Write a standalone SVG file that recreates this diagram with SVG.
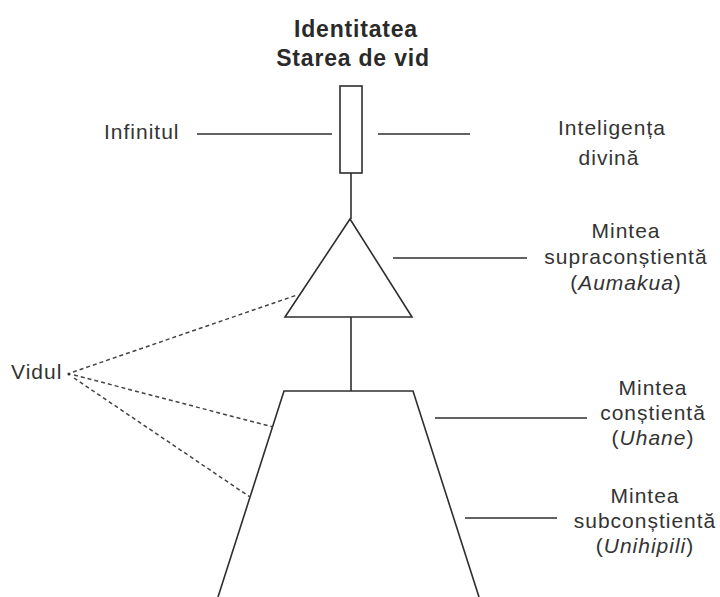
<svg xmlns="http://www.w3.org/2000/svg" width="720" height="597" viewBox="0 0 720 597">
  <style>
    .shape { fill: none; stroke: #2e2e2e; stroke-width: 1.6; }
    .conn { fill: none; stroke: #2e2e2e; stroke-width: 1.6; }
    .dash { fill: none; stroke: #444; stroke-width: 1.5; stroke-dasharray: 4 3; }
    .lbl { font-family: "Liberation Sans", Arial, sans-serif; font-size: 21px; letter-spacing: 1px; fill: #333; }
    .mid { text-anchor: middle; }
    .title { font-family: "Liberation Sans", Arial, sans-serif; font-size: 23px; font-weight: bold; letter-spacing: 0.8px; fill: #2a2a2a; text-anchor: middle; }
  </style>
  <rect width="720" height="597" fill="#ffffff"/>

  <g id="title">
    <text class="title" x="356" y="37">Identitatea</text>
    <text class="title" x="353" y="66">Starea de vid</text>
  </g>

  <g id="identity-rect">
    <rect class="shape" x="340" y="86" width="22" height="87"/>
  </g>

  <g id="triangle-supraconscious">
    <polygon class="shape" points="350,219 285,317 412,317"/>
  </g>

  <g id="trapezoid-mind">
    <polyline class="shape" points="218,597 284,391 413,391 479,597"/>
  </g>

  <g id="label-infinitul">
    <text class="lbl" x="104" y="139">Infinitul</text>
  </g>

  <g id="label-inteligenta">
    <text class="lbl mid" x="612" y="135">Inteligența</text>
    <text class="lbl mid" x="609" y="165">divină</text>
  </g>

  <g id="label-aumakua">
    <text class="lbl mid" x="626" y="238">Mintea</text>
    <text class="lbl mid" x="626" y="264">supraconștientă</text>
    <text class="lbl mid" x="626" y="290">(<tspan font-style="italic">Aumakua</tspan>)</text>
  </g>

  <g id="label-uhane">
    <text class="lbl mid" x="653" y="395">Mintea</text>
    <text class="lbl mid" x="653" y="420">conștientă</text>
    <text class="lbl mid" x="653" y="445">(<tspan font-style="italic">Uhane</tspan>)</text>
  </g>

  <g id="label-unihipili">
    <text class="lbl mid" x="645" y="503">Mintea</text>
    <text class="lbl mid" x="645" y="528">subconștientă</text>
    <text class="lbl mid" x="645" y="553">(<tspan font-style="italic">Unihipili</tspan>)</text>
  </g>

  <g id="label-vidul">
    <text class="lbl" x="11" y="379">Vidul</text>
    <circle cx="69" cy="374" r="1.6" fill="#333"/>
  </g>

  <g id="connectors">
    <line class="conn" x1="197" y1="134" x2="332" y2="134"/>
    <line class="conn" x1="378" y1="134" x2="470" y2="134"/>
    <line class="conn" x1="351" y1="173" x2="351" y2="219"/>
    <line class="conn" x1="351" y1="317" x2="351" y2="391"/>
    <line class="conn" x1="393" y1="258" x2="527" y2="258"/>
    <line class="conn" x1="435" y1="418" x2="587" y2="418"/>
    <line class="conn" x1="465" y1="518" x2="557" y2="518"/>
    <line class="dash" x1="73" y1="372" x2="297" y2="295"/>
    <line class="dash" x1="74" y1="375" x2="273" y2="427"/>
    <line class="dash" x1="74" y1="378" x2="250" y2="497"/>
  </g>
</svg>
